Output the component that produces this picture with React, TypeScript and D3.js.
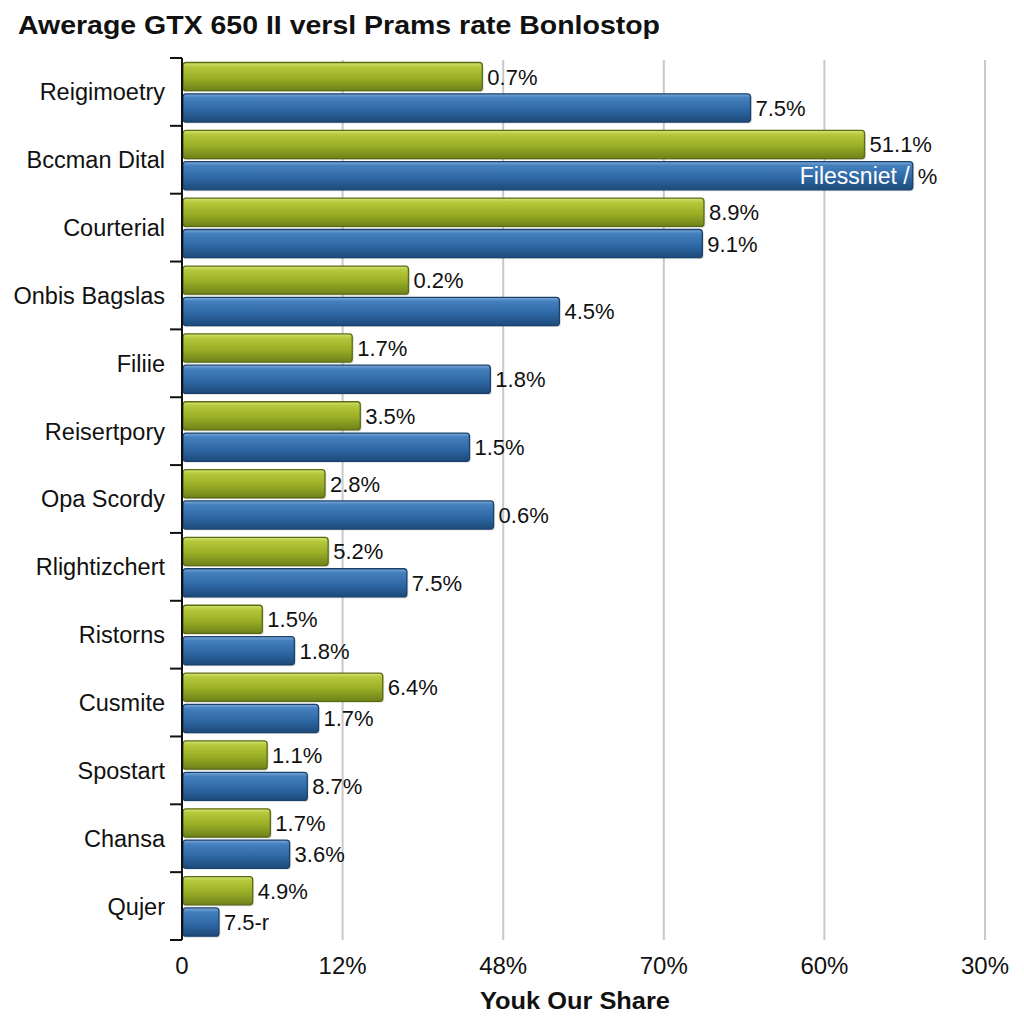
import React from "react";
import * as d3 from "d3";

const title = "Awerage GTX 650 II versl Prams rate Bonlostop";
const xAxisTitle = "Youk Our Share";
const categories = [
  "Reigimoetry", "Bccman Dital", "Courterial", "Onbis Bagslas", "Filiie",
  "Reisertpory", "Opa Scordy", "Rlightizchert", "Ristorns", "Cusmite",
  "Spostart", "Chansa", "Qujer",
];
const greenValues = [18.7, 42.5, 32.5, 14.1, 10.6, 11.1, 8.9, 9.1, 5.0, 12.5, 5.3, 5.5, 4.4];
const blueValues = [35.4, 45.5, 32.4, 23.5, 19.2, 17.9, 19.4, 14.0, 7.0, 8.5, 7.8, 6.7, 2.3];
const greenLabels = ["0.7%", "51.1%", "8.9%", "0.2%", "1.7%", "3.5%", "2.8%", "5.2%", "1.5%", "6.4%", "1.1%", "1.7%", "4.9%"];
const blueLabels = ["7.5%", "%", "9.1%", "4.5%", "1.8%", "1.5%", "0.6%", "7.5%", "1.8%", "1.7%", "8.7%", "3.6%", "7.5-r"];
const blueInnerLabels = ["", "Filessniet /", "", "", "", "", "", "", "", "", "", "", ""];
const tickValues = [0, 10, 20, 30, 40, 50];
const tickLabels = ["0", "12%", "48%", "70%", "60%", "30%"];

const FONT = "Arial, 'Liberation Sans', Helvetica, sans-serif";

export default function App() {
  const x = d3.scaleLinear().domain([0, 50]).range([182, 985]);
  const y = d3.scaleBand().domain(categories).range([58, 940]).padding(0);
  const sub = d3.scaleBand().domain(["g", "b"]).range([4.5, 64]).paddingInner(0.1);
  const bw = sub.bandwidth();
  const x0 = 183;

  const series = [
    { key: "g", values: greenValues, labels: greenLabels, fill: "url(#gGreen)", stroke: "#5a6b12" },
    { key: "b", values: blueValues, labels: blueLabels, fill: "url(#gBlue)", stroke: "#1b426c" },
  ];

  return (
    <svg
      width={1024}
      height={1024}
      style={{ position: "absolute", left: 0, top: 0, background: "#fff", display: "block" }}
    >
      <defs>
        <linearGradient id="gGreen" x1="0" y1="0" x2="0" y2="1">
          <stop offset="0%" stopColor="#d8e47a" />
          <stop offset="14%" stopColor="#b6c93c" />
          <stop offset="55%" stopColor="#9aae26" />
          <stop offset="100%" stopColor="#6e821a" />
        </linearGradient>
        <linearGradient id="gBlue" x1="0" y1="0" x2="0" y2="1">
          <stop offset="0%" stopColor="#7eaad8" />
          <stop offset="14%" stopColor="#4580be" />
          <stop offset="55%" stopColor="#2f69a6" />
          <stop offset="100%" stopColor="#1d4a7a" />
        </linearGradient>
      </defs>
      <rect width={1024} height={1024} fill="#ffffff" />

      <text
        x={18}
        y={34}
        fontFamily={FONT}
        fontWeight="bold"
        fontSize={26}
        textLength={642}
        lengthAdjust="spacingAndGlyphs"
        fill="#111"
      >
        {title}
      </text>

      {/* gridlines */}
      {tickValues.slice(1).map((t) => (
        <line key={t} x1={x(t)} x2={x(t)} y1={60} y2={940} stroke="#c9c9c9" strokeWidth={2} />
      ))}

      {/* bars */}
      {categories.map((c, i) => {
        const top = y(c) as number;
        return (
          <g key={c}>
            {series.map((s) => {
              const yy = top + (sub(s.key) as number);
              const xe = x(s.values[i]);
              return (
                <g key={s.key}>
                  <rect
                    x={x0}
                    y={yy + 1.5}
                    width={xe - x0 + 1.5}
                    height={bw}
                    rx={3}
                    fill="rgba(0,0,0,0.12)"
                  />
                  <rect
                    x={x0}
                    y={yy}
                    width={xe - x0}
                    height={bw}
                    rx={3}
                    fill={s.fill}
                    stroke={s.stroke}
                    strokeWidth={1.3}
                  />
                  {s.key === "b" && blueInnerLabels[i] ? (
                    <text
                      x={xe - 3}
                      y={yy + bw / 2}
                      dy="0.35em"
                      textAnchor="end"
                      fontFamily={FONT}
                      fontSize={23}
                      fill="#ffffff"
                    >
                      {blueInnerLabels[i]}
                    </text>
                  ) : null}
                  <text
                    x={xe + 5}
                    y={yy + bw / 2}
                    dy="0.36em"
                    fontFamily={FONT}
                    fontSize={22}
                    fill="#111"
                  >
                    {s.labels[i]}
                  </text>
                </g>
              );
            })}
            <text
              x={165}
              y={top + y.bandwidth() / 2}
              dy="0.36em"
              textAnchor="end"
              fontFamily={FONT}
              fontSize={23.5}
              fill="#111"
            >
              {c}
            </text>
          </g>
        );
      })}

      {/* y axis */}
      <line x1={182} x2={182} y1={58} y2={940} stroke="#111" strokeWidth={2} />
      {[...categories.map((c) => y(c) as number), 940].map((t, i) => (
        <line key={i} x1={170} x2={182} y1={t} y2={t} stroke="#111" strokeWidth={2} />
      ))}

      {/* x tick labels */}
      {tickValues.map((t, i) => (
        <text
          key={t}
          x={x(t)}
          y={965}
          dy="0.36em"
          textAnchor="middle"
          fontFamily={FONT}
          fontSize={24}
          fill="#111"
        >
          {tickLabels[i]}
        </text>
      ))}
      <text
        x={575}
        y={1000}
        dy="0.36em"
        textAnchor="middle"
        fontFamily={FONT}
        fontWeight="bold"
        fontSize={24}
        textLength={190}
        lengthAdjust="spacingAndGlyphs"
        fill="#111"
      >
        {xAxisTitle}
      </text>
    </svg>
  );
}
